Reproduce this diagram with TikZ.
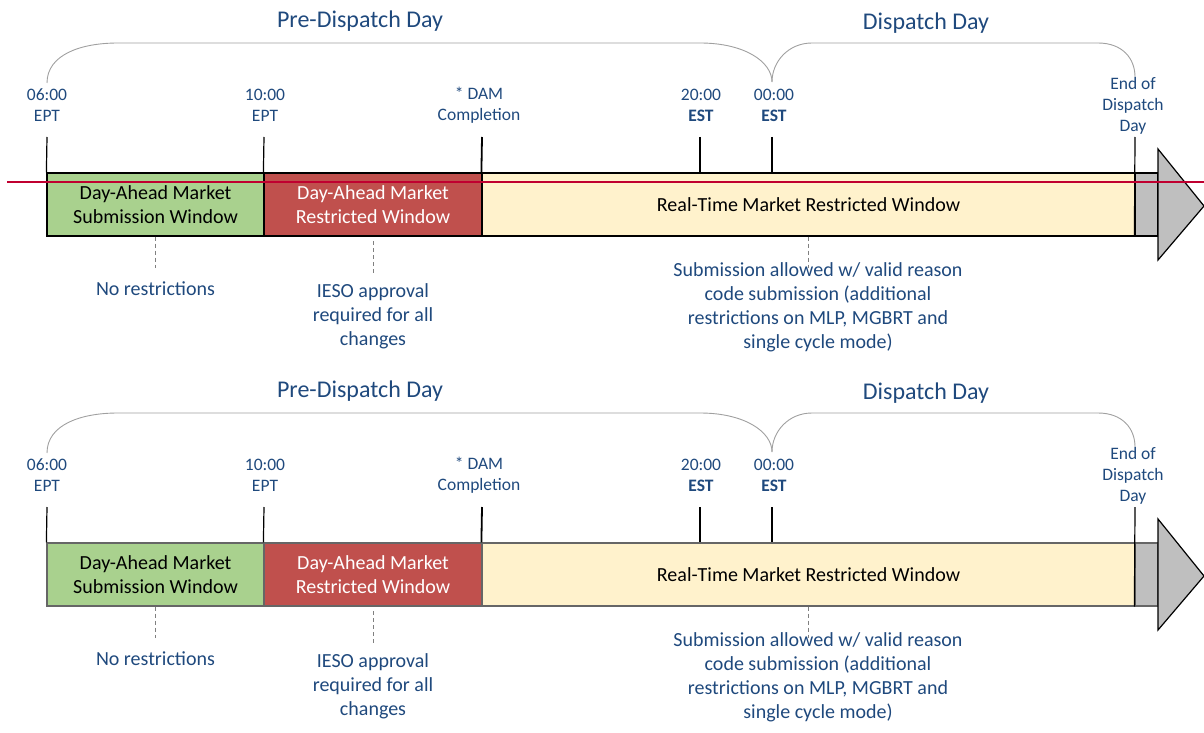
\documentclass[tikz,border=0pt]{standalone}
\usepackage{fontspec}
\setmainfont{Carlito}
\definecolor{navy}{RGB}{31,73,125}
\definecolor{dagreen}{RGB}{169,209,142}
\definecolor{dared}{RGB}{192,80,77}
\definecolor{rtyellow}{RGB}{255,242,204}
\definecolor{endgray}{RGB}{191,191,191}
\definecolor{bracegray}{RGB}{160,160,160}
\definecolor{cutred}{RGB}{192,0,48}
\tikzset{
  title/.style={text=navy, font=\fontsize{24}{29}\selectfont},
  stamp/.style={text=navy, align=center, inner sep=0pt, font=\fontsize{17.5}{21}\selectfont},
  note/.style={text=navy, align=center, inner sep=0pt, font=\fontsize{20}{24}\selectfont},
  seg/.style={draw=#1, line width=1.2pt, minimum height=63pt, inner sep=0pt, align=center, font=\fontsize{20}{24}\selectfont},
  tick/.style={line width=1.2pt},
  brace/.style={draw=bracegray, line width=0.9pt},
  guide/.style={draw=gray, line width=0.9pt, dash pattern=on 4pt off 3pt}
}
\begin{document}
\begin{tikzpicture}[x=1pt,y=-1pt]
\useasboundingbox (0,0) rectangle (1204,733);
\foreach \p/\off/\edge in {a/0/black, b/370/black!60}{
\begin{scope}[yshift=-\off pt]
		\node [title] (pre\p) at (360,21) {Pre-Dispatch Day};
		\node [title] (disp\p) at (926,23) {Dispatch Day};
		\draw [brace] (47,83) .. controls (47,55) and (80,43) .. (118,43) -- (700,43) .. controls (745,43) and (772,62) .. (772,82);
		\draw [brace] (772,82) .. controls (772,62) and (788,43) .. (812,43) -- (1098,43) .. controls (1122,43) and (1135,58) .. (1135,77);
		\node [stamp] (t1\p) at (47,105.5) {06:00\\EPT};
		\node [stamp] (t2\p) at (265,105.5) {10:00\\EPT};
		\node [stamp] (t3\p) at (479,105.5) {* DAM\\Completion};
		\node [stamp] (t4\p) at (701,105.5) {20:00\\\textbf{EST}};
		\node [stamp] (t5\p) at (774,105.5) {00:00\\\textbf{EST}};
		\node [stamp] (t6\p) at (1133,105.5) {End of\\Dispatch\\Day};
		\node [seg=\edge, fill=dagreen, minimum width=217pt] (s1\p) at (155.5,204.5) {Day-Ahead Market\\Submission Window};
		\node [seg=\edge, fill=dared, text=white, minimum width=218pt] (s2\p) at (373,204.5) {Day-Ahead Market\\Restricted Window};
		\node [seg=\edge, fill=rtyellow, minimum width=653pt] (s3\p) at (808.5,204.5) {Real-Time Market Restricted Window};
		\node [seg=\edge, fill=endgray, minimum width=23pt] (s4\p) at (1146.5,204.5) {};
		\draw [fill=endgray, line width=1.2pt, line join=miter] (1158,149) -- (1204,206) -- (1158,260) -- cycle;
		\coordinate (k1\p) at (47,137);
		\coordinate (k2\p) at (264,137);
		\coordinate (k3\p) at (482,137);
		\coordinate (k4\p) at (700,137);
		\coordinate (k5\p) at (772,137);
		\coordinate (k6\p) at (1135,137);
		\draw [tick] (k1\p) to (s1\p.north west);
		\draw [tick] (k2\p) to (s2\p.north west);
		\draw [tick, line width=1.8pt] (k3\p) to (s3\p.north west);
		\draw [tick] (k4\p) to (k4\p |- s3\p.north);
		\draw [tick] (k5\p) to (k5\p |- s3\p.north);
		\draw [tick] (k6\p) to (s4\p.south west);
		\node [note] (n1\p) at (155.5,289) {No restrictions};
		\node [note] (n2\p) at (373,316) {IESO approval\\required for all\\changes};
		\node [note] (n3\p) at (818,307.5) {Submission allowed w/ valid reason\\code submission (additional\\restrictions on MLP, MGBRT and\\single cycle mode)};
		\coordinate (d1\p) at (155.5,268);
		\coordinate (d2\p) at (373,241);
		\coordinate (d3\p) at (373,273);
		\coordinate (d4\p) at (808.5,268);
		\draw [guide] (s1\p.south) to (d1\p);
		\draw [guide] (d2\p) to (d3\p);
		\draw [guide] (s3\p.south) to (d4\p);
\end{scope}
}
		\coordinate (r0) at (7,182);
		\coordinate (r1) at (1204,182);
		\draw [cutred, line width=1.6pt] (r0) to (r1);
\end{tikzpicture}
\end{document}
